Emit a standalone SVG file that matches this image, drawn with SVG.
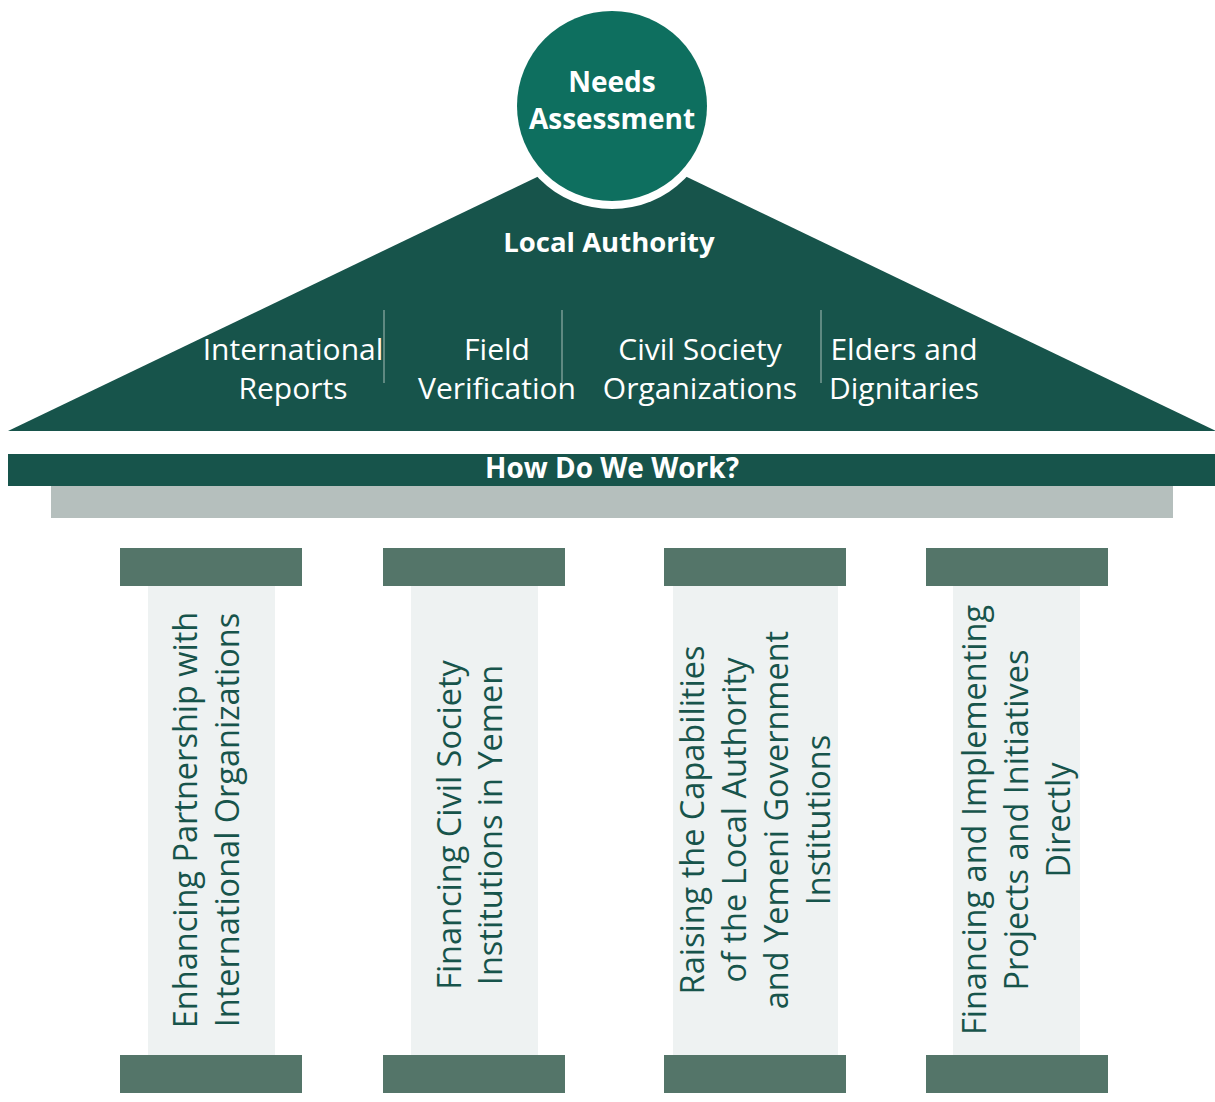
<svg xmlns="http://www.w3.org/2000/svg" width="1215" height="1102" viewBox="0 0 1215 1102">
<style>
.w{fill:#ffffff;font-family:"Open Sans","Noto Sans",sans-serif;}
.b{font-weight:bold;}
.item{font-size:30px;text-anchor:middle;}
.sep{stroke:#5f8981;stroke-width:2;}
.cap{fill:#547569;}
.shaft{fill:#eef2f2;}
.ct{fill:#17544b;font-family:"Open Sans","Noto Sans",sans-serif;font-size:32.5px;text-anchor:middle;}
</style>
<rect width="1215" height="1102" fill="#ffffff"/>
<g id="roof">
<polygon points="8,431 612,141 1216,431" fill="#17544b"/>
<text class="w b" x="609" y="252" font-size="27.5" text-anchor="middle">Local Authority</text>
</g>
<g id="needs-assessment">
<circle cx="612" cy="106" r="103" fill="#ffffff"/>
<circle cx="612" cy="106" r="95" fill="#0e6f5f"/>
<text class="w b" x="612" y="92" font-size="28" text-anchor="middle">Needs</text>
<text class="w b" x="612" y="129" font-size="28" text-anchor="middle">Assessment</text>
</g>
<g id="separators">
<line class="sep" x1="384" y1="310" x2="384" y2="383"/>
<line class="sep" x1="562" y1="310" x2="562" y2="383"/>
<line class="sep" x1="821" y1="310" x2="821" y2="383"/>
</g>
<g id="international-reports">
<text class="w item" x="293" y="360">International</text>
<text class="w item" x="293" y="399">Reports</text>
</g>
<g id="field-verification">
<text class="w item" x="497" y="360">Field</text>
<text class="w item" x="497" y="399">Verification</text>
</g>
<g id="civil-society">
<text class="w item" x="700" y="360">Civil Society</text>
<text class="w item" x="700" y="399">Organizations</text>
</g>
<g id="elders">
<text class="w item" x="904" y="360">Elders and</text>
<text class="w item" x="904" y="399">Dignitaries</text>
</g>
<g id="how-do-we-work">
<rect x="8" y="454" width="1207" height="32" fill="#17544b"/>
<text class="w b" x="612" y="478" font-size="28" text-anchor="middle">How Do We Work?</text>
<rect x="51" y="486" width="1122" height="32" fill="#b5bfbd"/>
</g>
<g id="pillar-1">
<rect class="cap" x="120" y="548" width="182" height="38"/>
<rect class="shaft" x="148" y="586" width="127" height="469"/>
<rect class="cap" x="120" y="1055" width="182" height="38"/>
<g transform="translate(0,820) rotate(-90)">
<text class="ct" x="0" y="197">Enhancing Partnership with</text>
<text class="ct" x="0" y="239">International Organizations</text>
</g>
</g>
<g id="pillar-2">
<rect class="cap" x="383" y="548" width="182" height="38"/>
<rect class="shaft" x="411" y="586" width="127" height="469"/>
<rect class="cap" x="383" y="1055" width="182" height="38"/>
<g transform="translate(0,825) rotate(-90)">
<text class="ct" x="0" y="461">Financing Civil Society</text>
<text class="ct" x="0" y="502">Institutions in Yemen</text>
</g>
</g>
<g id="pillar-3">
<rect class="cap" x="664" y="548" width="182" height="38"/>
<rect class="shaft" x="673" y="586" width="165" height="469"/>
<rect class="cap" x="664" y="1055" width="182" height="38"/>
<g transform="translate(0,820) rotate(-90)">
<text class="ct" x="0" y="704">Raising the Capabilities</text>
<text class="ct" x="0" y="746">of the Local Authority</text>
<text class="ct" x="0" y="788">and Yemeni Government</text>
<text class="ct" x="0" y="830">Institutions</text>
</g>
</g>
<g id="pillar-4">
<rect class="cap" x="926" y="548" width="182" height="38"/>
<rect class="shaft" x="953" y="586" width="127" height="469"/>
<rect class="cap" x="926" y="1055" width="182" height="38"/>
<g transform="translate(0,820) rotate(-90)">
<text class="ct" x="0" y="986">Financing and Implementing</text>
<text class="ct" x="0" y="1028">Projects and Initiatives</text>
<text class="ct" x="0" y="1070">Directly</text>
</g>
</g>
</svg>
